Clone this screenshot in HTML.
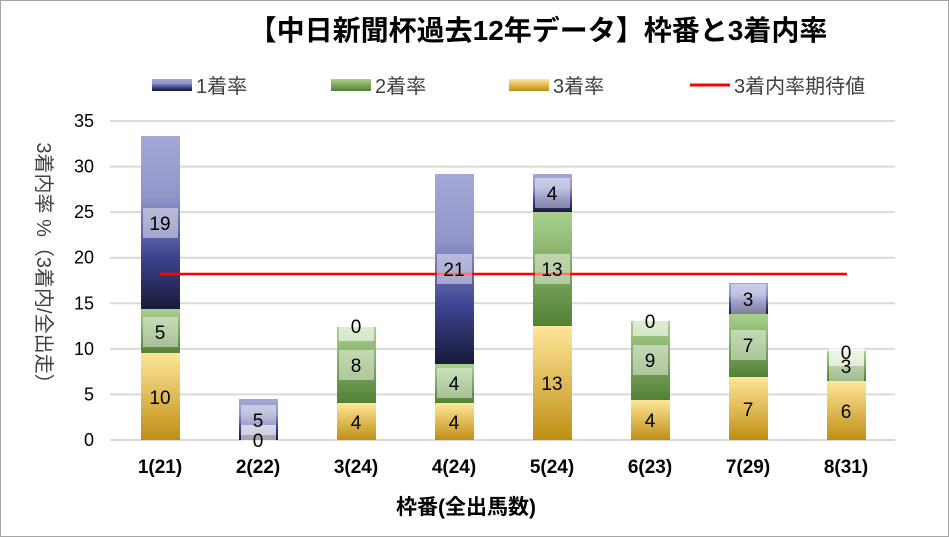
<!DOCTYPE html>
<html><head><meta charset="utf-8"><style>
body{margin:0;background:#fff}
svg{display:block;font-family:"Liberation Sans","Noto Sans CJK JP",sans-serif}
</style></head><body>
<svg width="949" height="537" viewBox="0 0 949 537">
<defs>
<linearGradient id="b" x1="0" y1="0" x2="0" y2="1"><stop offset="0" stop-color="#a2a8d6"/><stop offset="0.35" stop-color="#9096c8"/><stop offset="0.7" stop-color="#3d438f"/><stop offset="1" stop-color="#181a38"/></linearGradient>
<linearGradient id="g" x1="0" y1="0" x2="0" y2="1"><stop offset="0" stop-color="#a9d18e"/><stop offset="1" stop-color="#538135"/></linearGradient>
<linearGradient id="y" x1="0" y1="0" x2="0" y2="1"><stop offset="0" stop-color="#ffe699"/><stop offset="1" stop-color="#bf8f14"/></linearGradient>
</defs>
<rect x="0.5" y="0.5" width="948" height="536" fill="#fff" stroke="#a6a6a6"/>
<text x="538" y="40" font-size="28" font-weight="bold" text-anchor="middle">【中日新聞杯過去12年データ】枠番と3着内率</text>
<g font-size="20" fill="#404040">
<rect x="152" y="79" width="40" height="12" fill="url(#b)"/><text x="196" y="93">1着率</text>
<rect x="331" y="79" width="40" height="12" fill="url(#g)"/><text x="375" y="93">2着率</text>
<rect x="509" y="79" width="40" height="12" fill="url(#y)"/><text x="553" y="93">3着率</text>
<line x1="690" y1="85" x2="730" y2="85" stroke="#f00" stroke-width="3"/><text x="734" y="93">3着内率期待値</text>
</g>
<g stroke="#d9d9d9" stroke-width="2">
<line x1="110" y1="121" x2="895" y2="121"/><line x1="110" y1="166.6" x2="895" y2="166.6"/><line x1="110" y1="212.1" x2="895" y2="212.1"/><line x1="110" y1="257.7" x2="895" y2="257.7"/><line x1="110" y1="303.3" x2="895" y2="303.3"/><line x1="110" y1="348.9" x2="895" y2="348.9"/><line x1="110" y1="394.4" x2="895" y2="394.4"/><line x1="110" y1="440" x2="895" y2="440"/>
</g>
<g font-size="18" fill="#000" text-anchor="end">
<text x="94" y="127">35</text><text x="94" y="172.6">30</text><text x="94" y="218">25</text><text x="94" y="263.7">20</text><text x="94" y="309.3">15</text><text x="94" y="354.9">10</text><text x="94" y="400.4">5</text><text x="94" y="446">0</text>
</g>
<text transform="translate(37,268) rotate(90)" font-size="20" text-anchor="middle" fill="#404040">3着内率 %（3着内/全出走）</text>
<g>
<rect x="141" y="353" width="39" height="87" fill="url(#y)"/><rect x="141" y="309" width="39" height="44" fill="url(#g)"/><rect x="141" y="136" width="39" height="173" fill="url(#b)"/>
<rect x="239" y="399" width="39" height="41" fill="url(#b)"/>
<rect x="337" y="403" width="39" height="37" fill="url(#y)"/><rect x="337" y="327" width="39" height="76" fill="url(#g)"/>
<rect x="435" y="403" width="39" height="37" fill="url(#y)"/><rect x="435" y="364" width="39" height="39" fill="url(#g)"/><rect x="435" y="174" width="39" height="190" fill="url(#b)"/>
<rect x="533" y="326" width="39" height="114" fill="url(#y)"/><rect x="533" y="212" width="39" height="114" fill="url(#g)"/><rect x="533" y="174" width="39" height="38" fill="url(#b)"/>
<rect x="631" y="400" width="39" height="40" fill="url(#y)"/><rect x="631" y="321" width="39" height="79" fill="url(#g)"/>
<rect x="729" y="377" width="39" height="63" fill="url(#y)"/><rect x="729" y="314" width="39" height="63" fill="url(#g)"/><rect x="729" y="283" width="39" height="31" fill="url(#b)"/>
<rect x="827" y="381" width="39" height="59" fill="url(#y)"/><rect x="827" y="351" width="39" height="30" fill="url(#g)"/>
</g>
<line x1="160" y1="274" x2="847" y2="274" stroke="#f00" stroke-width="2.5"/>
<g font-size="19" text-anchor="middle">
<g fill="#fff" fill-opacity="0.45">
<rect x="143" y="208" width="35" height="30"/><rect x="143" y="317" width="35" height="30"/>
<rect x="241" y="405" width="35" height="30"/><rect x="241" y="425" width="35" height="30" fill-opacity="0.6"/>
<rect x="339" y="311" width="35" height="30" fill-opacity="0.6"/><rect x="339" y="350" width="35" height="30"/>
<rect x="437" y="368" width="35" height="30"/><rect x="437" y="254" width="35" height="30"/>
<rect x="535" y="178" width="35" height="30"/><rect x="535" y="254" width="35" height="30"/>
<rect x="633" y="306" width="35" height="30" fill-opacity="0.6"/><rect x="633" y="345" width="35" height="30"/>
<rect x="731" y="284" width="35" height="30"/><rect x="731" y="330" width="35" height="30"/>
<rect x="829" y="336" width="35" height="30" fill-opacity="0.6"/><rect x="829" y="351" width="35" height="30"/>
</g>
<text x="160" y="404">10</text><text x="160" y="339">5</text><text x="160" y="230">19</text>
<text x="258" y="427">5</text><text x="258" y="447">0</text>
<text x="356" y="429">4</text><text x="356" y="372">8</text><text x="356" y="333">0</text>
<text x="454" y="429">4</text><text x="454" y="390">4</text><text x="454" y="276">21</text>
<text x="552" y="390">13</text><text x="552" y="276">13</text><text x="552" y="200">4</text>
<text x="650" y="427">4</text><text x="650" y="367">9</text><text x="650" y="328">0</text>
<text x="748" y="416">7</text><text x="748" y="352">7</text><text x="748" y="306">3</text>
<text x="846" y="418">6</text><text x="846" y="373">3</text><text x="846" y="359">0</text>
</g>
<g font-size="19" font-weight="bold" text-anchor="middle">
<text x="160" y="473">1(21)</text><text x="258" y="473">2(22)</text><text x="356" y="473">3(24)</text><text x="454" y="473">4(24)</text><text x="552" y="473">5(24)</text><text x="650" y="473">6(23)</text><text x="748" y="473">7(29)</text><text x="846" y="473">8(31)</text>
<text x="466" y="514" font-size="21">枠番(全出馬数)</text>
</g>
</svg>
</body></html>
